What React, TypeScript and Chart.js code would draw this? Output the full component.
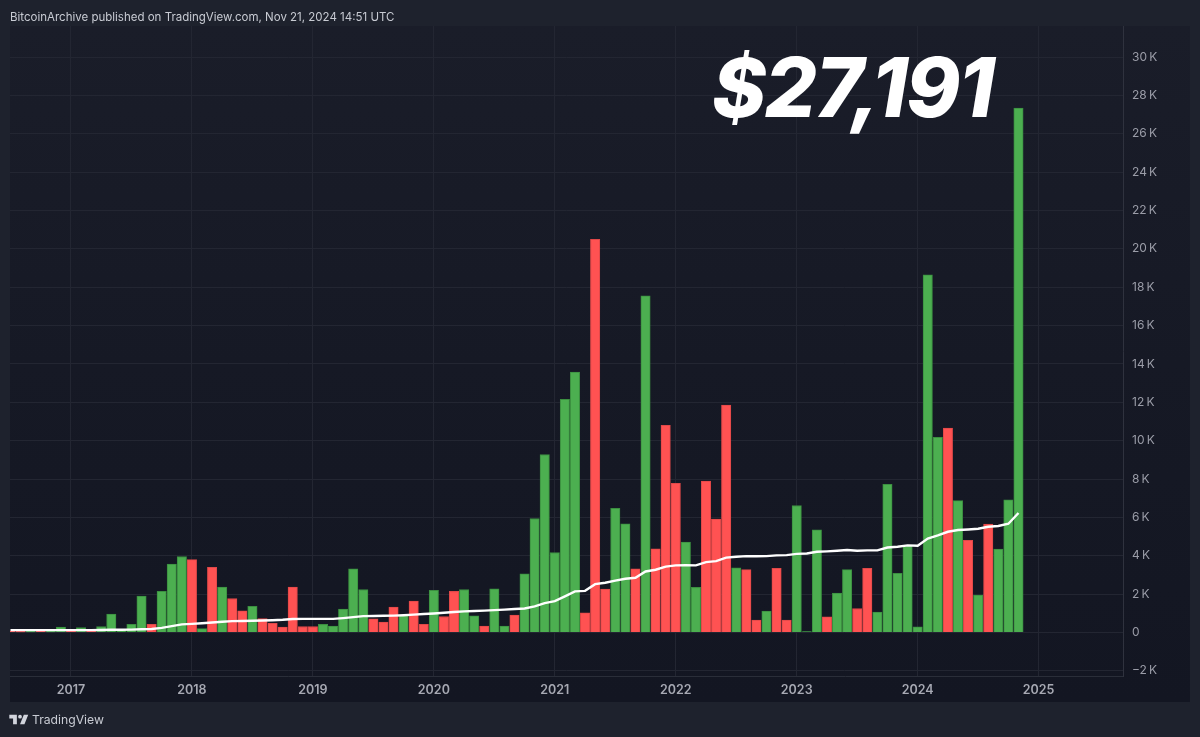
import React, { useEffect, useRef } from "react";
import { Chart, registerables } from "chart.js";

Chart.register(...registerables);

// Monthly candles from Jul 2016 to Nov 2024 (thousands of USD)
const firstYear = 2016;
const firstMonth = 7;
const monthlyValues = [
  0.08, 0.06, 0.07, 0.08, 0.1, 0.28,
  0.14, 0.26, 0.12, 0.31, 0.96, 0.15, 0.43, 1.9, 0.43, 2.14, 3.56, 3.96,
  3.8, 0.2, 3.4, 2.36, 1.77, 1.13, 1.36, 0.73, 0.47, 0.28, 2.36, 0.31,
  0.31, 0.42, 0.33, 1.22, 3.32, 2.24, 0.71, 0.54, 1.32, 0.89, 1.63, 0.42,
  2.2, 0.83, 2.14, 2.24, 0.87, 0.33, 2.28, 0.33, 0.9, 3.06, 5.94, 9.28,
  4.17, 12.15, 13.57, 1.03, 20.5, 2.26, 6.47, 5.67, 3.32, 17.55, 4.36, 10.8,
  7.77, 4.71, 2.35, 7.89, 5.91, 11.85, 3.37, 3.28, 0.64, 1.11, 3.35, 0.64,
  6.62, 0.05, 5.35, 0.82, 2.05, 3.28, 1.25, 3.34, 1.06, 7.72, 3.08, 4.5,
  0.3, 18.64, 10.18, 10.65, 6.87, 4.8, 1.95, 5.65, 4.35, 6.92, 27.34,
];
// g = green (up), r = red (down)
const monthlySides =
  "rrgrgg" +
  "rgrgggggrggg" +
  "rgrgrrgrrrrr" +
  "rgggggrrrgrr" +
  "grrggrggrggg" +
  "gggrrrggrgrr" +
  "rggrrrgrrgrr" +
  "gggrggrrgggg" +
  "gggrgrgrggg";
const averageLine = [
  0.12, 0.12, 0.12, 0.12, 0.12, 0.12,
  0.12, 0.12, 0.12, 0.13, 0.14, 0.14, 0.15, 0.17, 0.18, 0.24, 0.33, 0.42,
  0.45, 0.48, 0.52, 0.56, 0.59, 0.6, 0.61, 0.62, 0.64, 0.66, 0.7, 0.71,
  0.71, 0.71, 0.71, 0.75, 0.8, 0.85, 0.86, 0.87, 0.88, 0.9, 0.93, 0.96,
  0.99, 1.03, 1.07, 1.1, 1.12, 1.14, 1.165, 1.19, 1.22, 1.25, 1.36, 1.53,
  1.63, 1.88, 2.14, 2.17, 2.52, 2.59, 2.7, 2.8, 2.85, 3.18, 3.27, 3.43,
  3.5, 3.51, 3.5, 3.67, 3.72, 3.9, 3.95, 3.98, 3.97, 3.98, 4.02, 4.03,
  4.1, 4.12, 4.21, 4.23, 4.26, 4.3, 4.26, 4.28, 4.28, 4.43, 4.47, 4.54,
  4.52, 4.9, 5.06, 5.25, 5.34, 5.37, 5.41, 5.51, 5.55, 5.67, 6.23,
];
const yearLabels = [2017, 2018, 2019, 2020, 2021, 2022, 2023, 2024, 2025];
const priceTicks = [-2, 0, 2, 4, 6, 8, 10, 12, 14, 16, 18, 20, 22, 24, 26, 28, 30];

const headerText = "BitcoinArchive published on TradingView.com, Nov 21, 2024 14:51 UTC";
const calloutText = "$27,191";
const brandText = "TradingView";

const monthIndexOfYear = (year: number) => (year - firstYear) * 12 + 1 - firstMonth;

const paneBackground = {
  id: "paneBackground",
  beforeDraw(chart: any) {
    const { ctx, chartArea: a } = chart;
    const gradient = ctx.createLinearGradient(0, a.top, 0, a.bottom + 26);
    gradient.addColorStop(0, "#1a1d29");
    gradient.addColorStop(0.5, "#161925");
    gradient.addColorStop(1, "#131622");
    ctx.save();
    ctx.fillStyle = gradient;
    ctx.fillRect(a.left, a.top, a.right - a.left + 67, a.bottom - a.top + 26);
    ctx.restore();
  },
};

export default function App() {
  const ref = useRef<HTMLCanvasElement | null>(null);

  useEffect(() => {
    document.body.style.margin = "0";
    const chart = new Chart(ref.current as HTMLCanvasElement, {
      type: "bar",
      data: {
        datasets: [
          {
            type: "line",
            data: averageLine.map((y, i) => ({ x: i, y })),
            borderColor: "#ffffff",
            borderWidth: 2.4,
            pointRadius: 0,
            tension: 0,
            order: 0,
          },
          {
            type: "bar",
            data: monthlyValues.map((y, i) => ({ x: i, y })),
            backgroundColor: monthlyValues.map((_, i) =>
              monthlySides[i] === "g" ? "#4caf50" : "#ff5252"
            ),
            borderColor: monthlyValues.map((_, i) =>
              monthlySides[i] === "g" ? "#3b8f40" : "#e04848"
            ),
            borderWidth: 1,
            barThickness: 9.4,
            order: 1,
          },
        ],
      } as any,
      options: {
        responsive: false,
        animation: false,
        devicePixelRatio: 1,
        layout: { padding: { left: 10, right: 10, top: 26, bottom: 35 } },
        plugins: { legend: { display: false }, tooltip: { enabled: false }, title: { display: false } },
        scales: {
          x: {
            type: "linear",
            offset: false,
            min: -0.05,
            max: 110.37,
            afterBuildTicks(axis: any) {
              axis.ticks = yearLabels.map((y) => ({ value: monthIndexOfYear(y), label: String(y) }));
            },
            afterFit(axis: any) {
              axis.height = 26;
            },
            grid: { color: "#232632", lineWidth: 1, drawTicks: false, offset: false },
            border: { color: "#2a2e39", width: 1 },
            ticks: {
              color: "#a7a9b3",
              font: { family: "Inter", size: 12.5, weight: 600 },
              padding: 7,
              maxRotation: 0,
              autoSkip: false,
              callback(value: any) {
                return String(firstYear + Math.floor((Number(value) + firstMonth - 1) / 12));
              },
            },
          },
          y: {
            type: "linear",
            position: "right",
            min: -2.27,
            max: 31.62,
            afterBuildTicks(axis: any) {
              axis.ticks = priceTicks.map((value) => ({ value }));
            },
            afterFit(axis: any) {
              axis.width = 67;
            },
            grid: { color: "#232632", lineWidth: 1, drawTicks: false },
            border: { color: "#2f323e", width: 1 },
            ticks: {
              color: "#9b9da8",
              font: { family: "Inter", size: 12 },
              padding: 9,
              crossAlign: "near",
              callback(value: any) {
                const n = Number(value);
                if (n === 0) return "0";
                return (n < 0 ? "\u2212" : "") + Math.abs(n) + "\u2009K";
              },
            },
          },
        },
      } as any,
      plugins: [paneBackground],
    });
    return () => chart.destroy();
  }, []);

  return (
    <div style={{ position: "relative", width: 1200, height: 737, background: "#1e222d", overflow: "hidden" }}>
      <canvas ref={ref} width={1200} height={737} style={{ position: "absolute", left: 0, top: 0, display: "block" }} />
      <div
        style={{
          position: "absolute", left: 10, top: 9, fontFamily: "Inter", fontSize: 11.5,
          lineHeight: "16px", color: "#c8cbd3", whiteSpace: "nowrap",
        }}
      >
        {headerText}
      </div>
      <div
        style={{
          position: "absolute", left: 712, top: 40, fontFamily: "Inter", fontSize: 82,
          fontWeight: 800, fontStyle: "italic", lineHeight: "96px", color: "#ffffff",
          whiteSpace: "nowrap", letterSpacing: -1.6,
        }}
      >
        {calloutText}
      </div>
      <svg
        viewBox="0 0 36 28"
        width="22.8"
        height="17.7"
        style={{ position: "absolute", left: 7.7, top: 711 }}
      >
        <path fill="#d1d4dc" d="M14 6H2v6h6v9h6V6Zm12 15h-7l6-15h7l-6 15Zm-7-9a3 3 0 1 0 0-6 3 3 0 0 0 0 6Z" />
      </svg>
      <div
        style={{
          position: "absolute", left: 32, top: 711, fontFamily: "Inter", fontSize: 12.2,
          lineHeight: "18px", color: "#c8cbd3", whiteSpace: "nowrap",
        }}
      >
        {brandText}
      </div>
    </div>
  );
}
